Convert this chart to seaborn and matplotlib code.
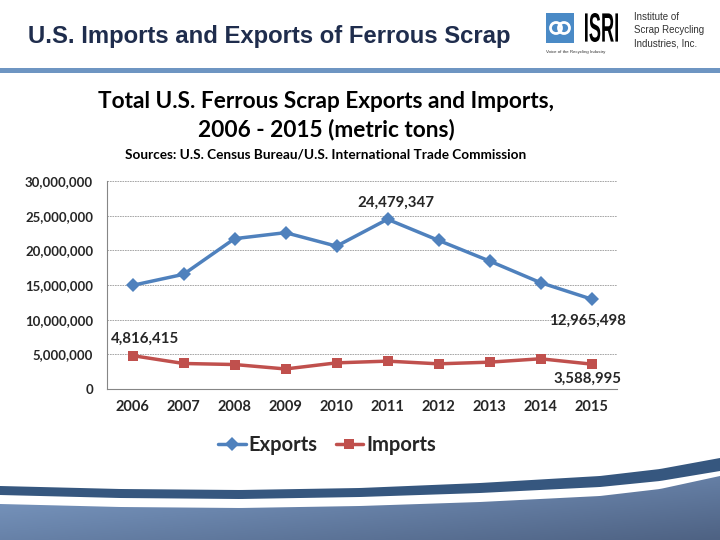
import numpy as np
import pandas as pd
import matplotlib
matplotlib.use("Agg")
import matplotlib.pyplot as plt
from matplotlib.patches import Rectangle, Circle, Polygon, PathPatch
from matplotlib.textpath import TextPath
from matplotlib.font_manager import FontProperties
from matplotlib.transforms import Affine2D
from matplotlib.colors import LinearSegmentedColormap
import matplotlib.ticker as mticker
import seaborn as sns

# data (metric tons)
years = [2006, 2007, 2008, 2009, 2010, 2011, 2012, 2013, 2014, 2015]
exports = [14950000, 16540000, 21680000, 22550000, 20600000, 24479347,
           21440000, 18460000, 15340000, 12965498]
imports = [4816415, 3680000, 3530000, 2890000, 3770000, 4020000,
           3630000, 3870000, 4360000, 3588995]
series_names = ["Exports", "Imports"]
y_ticks = [0, 5000000, 10000000, 15000000, 20000000, 25000000, 30000000]

df = pd.DataFrame({
    "Year": years * 2,
    "Tons": exports + imports,
    "Series": ["Exports"] * len(years) + ["Imports"] * len(years),
})

W, H = 720, 540


def fx(px):
    return px / W


def fy(py):
    return 1 - py / H


sns.set_theme(style="white")
plt.rcParams["font.family"] = ["Lato", "DejaVu Sans"]

fig = plt.figure(figsize=(7.2, 5.4), dpi=100)
fig.patch.set_facecolor("white")

# background decoration in pixel coordinates
bg = fig.add_axes([0, 0, 1, 1], zorder=0)
bg.set_xlim(0, W)
bg.set_ylim(H, 0)
bg.axis("off")

# header rule
bg.add_patch(Rectangle((0, 68), W, 5, color="#6E95C2", lw=0))

# bottom swoosh
xs = np.linspace(0, W, 200)
band_top = np.interp(xs, [0, 120, 240, 360, 480, 600, 660, 720],
                     [486, 489, 490, 488, 483, 476, 469, 458])
band_bot = np.interp(xs, [0, 120, 240, 360, 480, 600, 660, 720],
                     [495, 498, 499, 497, 493, 487, 481, 471])
grad_top = np.interp(xs, [0, 120, 240, 360, 480, 600, 660, 720],
                     [504, 507, 508, 506, 502, 496, 489, 476])
bg.fill_between(xs, band_top, band_bot, color="#36577F", lw=0)

gx = np.linspace(0, 1, 200)
gy = np.linspace(0, 1, 100)
GX, GY = np.meshgrid(gx, gy)
val = 0.55 * GY + 0.45 * (1 - GX)
cmap = LinearSegmentedColormap.from_list("sw", ["#4E6283", "#6A85AC", "#86A6D0"])
im = bg.imshow(val, cmap=cmap, extent=(0, W, 456, H), origin="upper",
               aspect="auto", zorder=1)
poly = Polygon(list(zip(xs, grad_top)) + [(W, H), (0, H)], closed=True,
               transform=bg.transData, facecolor="none", edgecolor="none")
bg.add_patch(poly)
im.set_clip_path(poly)
bg.set_xlim(0, W)
bg.set_ylim(H, 0)

# ISRI logo
bg.add_patch(Rectangle((546, 13), 28, 30, color="#4A8AC6", lw=0))
bg.add_patch(Circle((556, 28), 5.5, facecolor="none", edgecolor="white", lw=2))
bg.add_patch(Circle((564, 28), 5.5, facecolor="none", edgecolor="white", lw=2))
tp = TextPath((0, 0), "ISRI", size=10,
              prop=FontProperties(family="Liberation Sans", weight="bold"))
ext = tp.get_extents()
sx = 33 / ext.width
sy = 29 / ext.height
tr = Affine2D().translate(-ext.x0, -ext.y0).scale(sx, -sy).translate(585, 42)
bg.add_patch(PathPatch(tr.transform_path(tp), facecolor="black", lw=0))
for i, t in enumerate(["Institute of", "Scrap Recycling", "Industries, Inc."]):
    fig.text(fx(634), fy(17 + 13 * i), t, fontsize=7, color="#333333",
             family=["Liberation Sans", "DejaVu Sans"], va="center", ha="left")
fig.text(fx(546), fy(52), "Voice of the Recycling Industry", fontsize=3.2,
         color="#333333", family=["Liberation Sans", "DejaVu Sans"],
         va="center", ha="left")

# header title
fig.text(fx(28), fy(36), "U.S. Imports and Exports of Ferrous Scrap",
         fontsize=17.2, fontweight="bold", color="#1F2D4D",
         family=["Liberation Sans", "DejaVu Sans"], va="center", ha="left")

# chart titles
fig.text(fx(326), fy(102), "Total U.S. Ferrous Scrap Exports and Imports,",
         fontsize=16.3, fontweight="bold", color="black", ha="center", va="center")
fig.text(fx(326), fy(130), "2006 - 2015 (metric tons)",
         fontsize=16.3, fontweight="bold", color="black", ha="center", va="center")
fig.text(fx(326), fy(155), "Sources: U.S. Census Bureau/U.S. International Trade Commission",
         fontsize=9.8, fontweight="bold", color="black", ha="center", va="center")

# main chart
ax = fig.add_axes([fx(107), fy(389), fx(617) - fx(107), fy(181) - fy(389)], zorder=2)
ax.patch.set_alpha(0)
palette = {"Exports": "#4F81BD", "Imports": "#C0504D"}
sns.lineplot(data=df, x="Year", y="Tons", hue="Series", style="Series",
             markers={"Exports": "D", "Imports": "s"}, dashes=False,
             palette=palette, linewidth=2.5, markersize=7.5,
             markeredgewidth=0, ax=ax, legend=True)

ax.set_xlim(2005.5, 2015.5)
ax.set_ylim(0, 30000000)
ax.set_xticks(years)
ax.set_xticklabels([str(y) for y in years])
ax.xaxis.set_minor_locator(mticker.FixedLocator(np.arange(2005.5, 2016, 1)))
ax.set_yticks(y_ticks)
ax.yaxis.set_major_formatter(mticker.FuncFormatter(lambda v, p: f"{int(v):,}"))
ax.tick_params(axis="x", which="major", length=0, pad=8, labelsize=10.5)
ax.tick_params(axis="x", which="minor", length=5, color="#868686", width=0.8,
               direction="out")
ax.tick_params(axis="y", length=4, color="#868686", width=0.8, direction="out",
               labelsize=9.5, pad=6)
for lbl in ax.get_xticklabels() + ax.get_yticklabels():
    lbl.set_fontweight("bold")
ax.set_xlabel("")
ax.set_ylabel("")
ax.grid(axis="y", color="#9A9A9A", linestyle=(0, (2, 1)), linewidth=0.6)
ax.set_axisbelow(True)
for s in ["top", "right"]:
    ax.spines[s].set_visible(False)
for s in ["left", "bottom"]:
    ax.spines[s].set_color("#868686")
    ax.spines[s].set_linewidth(0.8)

# data labels
label_style = dict(textcoords="offset pixels", ha="center", va="center",
                   fontsize=10.8, fontweight="bold", annotation_clip=False)
ax.annotate(f"{exports[5]:,}", xy=(years[5], exports[5]), xytext=(8, 16), **label_style)
ax.annotate(f"{exports[-1]:,}", xy=(years[-1], exports[-1]), xytext=(-4, -22), **label_style)
ax.annotate(f"{imports[0]:,}", xy=(years[0], imports[0]), xytext=(13, 17), **label_style)
ax.annotate(f"{imports[-1]:,}", xy=(years[-1], imports[-1]), xytext=(-4, -15), **label_style)

handles, labels = ax.get_legend_handles_labels()
ax.get_legend().remove()
fig.legend(handles, labels, loc="center", bbox_to_anchor=(fx(327), fy(445)),
           ncol=2, frameon=False, handlelength=1.35, columnspacing=0.9,
           handletextpad=0.15, prop={"weight": "bold", "size": 14.5})

fig.savefig("out.png", dpi=100)
